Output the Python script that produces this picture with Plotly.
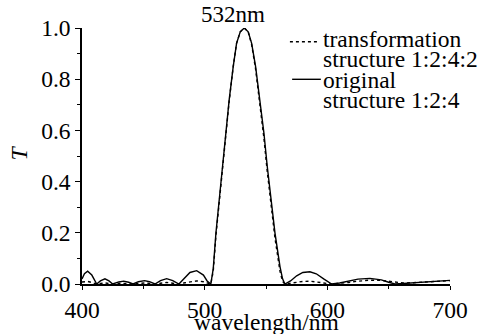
import plotly.graph_objects as go

wavelength = [400, 402, 404.6, 408, 412, 415, 418.7, 422, 425, 430, 434, 438, 441.6,
              446, 451, 455, 459.5, 464, 469, 474, 479, 484, 488, 493.5, 499, 502, 505,
              507, 509.2, 511.9, 514.4, 517.1, 520, 523.3, 526, 529, 532.3, 535.5, 538.3,
              541.5, 545, 548.3, 551, 554, 557.3, 561.4, 563.5, 565.4, 570, 575, 580,
              585.8, 591, 597, 603.5, 610, 617, 625, 634.7, 644, 650, 655, 662, 670,
              678, 686, 693, 700]

T_original = [0.02, 0.04, 0.05, 0.035, 0.0, 0.012, 0.02, 0.012, 0.0, 0.008, 0.011, 0.007, 0.0,
              0.009, 0.013, 0.009, 0.0, 0.013, 0.021, 0.013, 0.0, 0.025, 0.045, 0.052, 0.035, 0.012, 0.0,
              0.06, 0.2, 0.33, 0.46, 0.59, 0.72, 0.85, 0.94, 0.985, 1.0, 0.985, 0.94,
              0.85, 0.72, 0.59, 0.46, 0.33, 0.2, 0.068, 0.02, 0.0, 0.012, 0.032, 0.045,
              0.048, 0.04, 0.02, 0.0, 0.004, 0.012, 0.019, 0.022, 0.016, 0.007, 0.0, 0.002, 0.005,
              0.008, 0.011, 0.013, 0.014]

T_transform = [0.008, 0.009, 0.01, 0.006, 0.0, 0.002, 0.004, 0.002, 0.0, 0.002, 0.003, 0.002, 0.0,
               0.002, 0.004, 0.002, 0.0, 0.003, 0.006, 0.003, 0.0, 0.005, 0.009, 0.012, 0.009, 0.005, 0.0,
               0.05, 0.19, 0.32, 0.45, 0.585, 0.715, 0.85, 0.94, 0.985, 1.0, 0.985, 0.935,
               0.84, 0.705, 0.57, 0.44, 0.31, 0.18, 0.05, 0.01, 0.0, 0.003, 0.007, 0.01,
               0.011, 0.009, 0.004, 0.0, 0.002, 0.006, 0.011, 0.015, 0.014, 0.01, 0.006, 0.004, 0.005,
               0.007, 0.01, 0.012, 0.013]

x_ticks = [400, 500, 600, 700]
y_ticks = [0.0, 0.2, 0.4, 0.6, 0.8, 1.0]
y_tick_labels = ["0.0", "0.2", "0.4", "0.6", "0.8", "1.0"]

legend_lines = ["transformation", "structure 1:2:4:2", "original", "structure 1:2:4"]

FONT = "Liberation Serif"
FS = 23.5

fig = go.Figure()
fig.add_trace(go.Scatter(x=wavelength, y=T_original, mode="lines",
                         line=dict(color="black", width=1.4), showlegend=False))
fig.add_trace(go.Scatter(x=wavelength, y=T_transform, mode="lines",
                         line=dict(color="black", width=1.4, dash="dot"), showlegend=False))

fig.update_layout(
    width=483, height=334,
    margin=dict(l=82, r=33, t=28, b=50),
    paper_bgcolor="white", plot_bgcolor="white",
    font=dict(family=FONT, size=FS, color="black"),
    showlegend=False,
    hovermode=False,
    xaxis=dict(range=[400, 700], tickvals=x_ticks, ticktext=[str(v) for v in x_ticks],
               showline=True, linecolor="black", linewidth=1.5, mirror=False,
               ticks="outside", ticklen=4, tickwidth=1.2, tickcolor="black",
               minor=dict(dtick=50, ticks="outside", ticklen=3, tickcolor="black"),
               showgrid=False, zeroline=False, tickfont=dict(size=FS, family=FONT)),
    yaxis=dict(range=[0, 1.0], tickvals=y_ticks, ticktext=y_tick_labels,
               showline=True, linecolor="black", linewidth=1.5, mirror=False,
               ticks="outside", ticklen=5, tickwidth=1.2, tickcolor="black",
               minor=dict(dtick=0.1, ticks="outside", ticklen=3, tickcolor="black"),
               showgrid=False, zeroline=False, tickfont=dict(size=FS, family=FONT)),
)

annots = [
    dict(text="wavelength/nm", x=0.5, y=-0.15, xref="paper", yref="paper",
         xanchor="center", yanchor="middle", showarrow=False, font=dict(size=FS, family=FONT)),
    dict(text="<i>T</i>", x=-0.171, y=0.51, xref="paper", yref="paper", textangle=-90,
         xanchor="center", yanchor="middle", showarrow=False, font=dict(size=FS, family=FONT)),
    dict(text="532nm", x=0.41, y=1.051, xref="paper", yref="paper",
         xanchor="center", yanchor="middle", showarrow=False, font=dict(size=23, family=FONT)),
]
legend_y = [0.957, 0.877, 0.798, 0.7176]
for txt, yy in zip(legend_lines, legend_y):
    annots.append(dict(text=txt, x=0.65, y=yy, xref="paper", yref="paper",
                       xanchor="left", yanchor="middle", showarrow=False,
                       font=dict(size=FS, family=FONT)))
fig.update_layout(annotations=annots)

fig.add_shape(type="line", xref="paper", yref="paper", x0=0.565, x1=0.644, y0=0.9465, y1=0.9465,
              line=dict(color="black", width=1.4, dash="dot"))
fig.add_shape(type="line", xref="paper", yref="paper", x0=0.571, x1=0.649, y0=0.7996, y1=0.7996,
              line=dict(color="black", width=1.4))

fig.write_html("out.html")
